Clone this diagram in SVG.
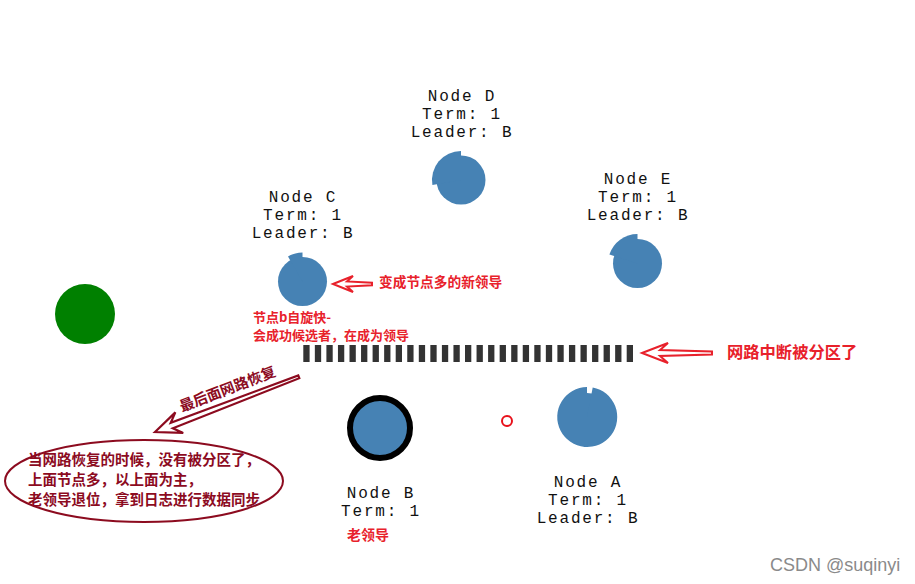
<svg xmlns="http://www.w3.org/2000/svg" width="915" height="584" viewBox="0 0 915 584">
<style>
.node{fill:#4682b4}
.lbl{font-family:"Liberation Mono","DejaVu Sans Mono",monospace;font-size:16px;letter-spacing:1.8px;fill:#111;text-anchor:middle}
.red{font-family:"Noto Sans CJK SC","Noto Sans",sans-serif;font-weight:bold;fill:#e8212b}
.dred{font-family:"Noto Sans CJK SC","Noto Sans",sans-serif;font-weight:bold;fill:#8c0b1f;font-size:14.5px}
.arrR{fill:#fff;stroke:#e8212b;stroke-width:2;stroke-linejoin:miter}
.arrD{fill:#fff;stroke:#8c0b1f;stroke-width:2.2}
</style>
<rect width="915" height="584" fill="#fff"/>

<g id="node-green"><circle cx="85" cy="314" r="30" fill="#008000"/></g>

<g id="node-d">
<circle class="node" cx="461" cy="180" r="24.5"/>
<path class="node" d="M461,180 L461,151 A29,29 0 0 0 432.4,185 Z"/>
<text class="lbl" x="462" y="101">Node D</text>
<text class="lbl" x="462" y="119">Term: 1</text>
<text class="lbl" x="462" y="137">Leader: B</text>
</g>

<g id="node-e">
<circle class="node" cx="637.5" cy="263.5" r="24.5"/>
<path class="node" d="M637.5,263.5 L637.5,234 A29.5,29.5 0 0 0 609.4,254.4 Z"/>
<text class="lbl" x="638" y="184">Node E</text>
<text class="lbl" x="638" y="202">Term: 1</text>
<text class="lbl" x="638" y="220">Leader: B</text>
</g>

<g id="node-c">
<circle class="node" cx="302.5" cy="281.5" r="24.5"/>
<path class="node" d="M302.5,281.5 L302.5,252.5 A29,29 0 0 0 288,256.4 Z"/>
<text class="lbl" x="303" y="202">Node C</text>
<text class="lbl" x="303" y="220">Term: 1</text>
<text class="lbl" x="303" y="238">Leader: B</text>
</g>

<g id="node-a">
<circle class="node" cx="587" cy="417" r="24"/>
<path class="node" d="M587,417 L592.7,387.5 A30,30 0 1 1 587,387 Z"/>
<text class="lbl" x="588" y="487">Node A</text>
<text class="lbl" x="588" y="505">Term: 1</text>
<text class="lbl" x="588" y="523">Leader: B</text>
</g>

<g id="node-b">
<circle cx="380" cy="428" r="30" fill="#4682b4" stroke="#000" stroke-width="6"/>
<text class="lbl" x="381" y="498">Node B</text>
<text class="lbl" x="381" y="516">Term: 1</text>
<text class="red" x="347" y="540" font-size="14">老领导</text>
</g>

<g id="node-msg"><circle cx="507" cy="421" r="5" fill="#fff" stroke="#e8111b" stroke-width="2"/></g>

<g id="partition">
<line x1="303.3" y1="353.5" x2="633" y2="353.5" stroke="#333" stroke-width="17" stroke-dasharray="6.3,5.25"/>
</g>

<g id="connectors">
<path class="arrR" transform="translate(642,353)" d="M0,0 L26,-10 L18,-3 L70,-1.5 L70,1.5 L18,3 L26,10 Z"/>
<path class="arrR" transform="translate(333,284)" d="M0,0 L20,-8 L14,-2.5 L39,-1.2 L39,1.2 L14,2.5 L20,8 Z"/>
<path class="arrD" transform="translate(155,432) rotate(-21)" d="M0,0 L26,-11 L18,-3 L154,-1.5 L154,1.5 L18,3 L26,11 Z"/>
</g>

<g id="notes">
<text class="red" x="379" y="287" font-size="13.7">变成节点多的新领导</text>
<text class="red" x="253" y="322" font-size="13">节点b自旋快-</text>
<text class="red" x="253" y="340" font-size="13">会成功候选者，在成为领导</text>
<text class="red" x="727" y="358" font-size="16.3">网路中断被分区了</text>
<text class="dred" transform="translate(182,412) rotate(-21)" font-size="13.5">最后面网路恢复</text>
<ellipse cx="144" cy="481" rx="139" ry="41" fill="none" stroke="#8c0b1f" stroke-width="2"/>
<text class="dred" x="28" y="465">当网路恢复的时候，没有被分区了，</text>
<text class="dred" x="28" y="485">上面节点多，以上面为主，</text>
<text class="dred" x="28" y="505">老领导退位，拿到日志进行数据同步</text>
</g>

<text x="770" y="571" font-family="'Liberation Sans','Noto Sans',sans-serif" font-size="18" fill="#8a8a8a">CSDN @suqinyi</text>
</svg>
